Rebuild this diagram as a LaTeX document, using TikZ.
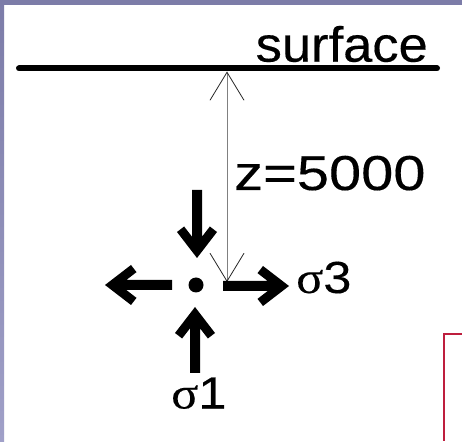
\documentclass[tikz,border=0pt]{standalone}
\usepackage{fontspec}
\setmainfont{Liberation Sans}
\newfontfamily\surfacefont[FakeStretch=1.06, FakeBold=0.3]{Liberation Sans}
\newfontfamily\depthfont[FakeStretch=1.18, FakeBold=0.3]{Liberation Sans}
\newfontfamily\sigmafont[FakeStretch=1.12, FakeBold=0.3]{Liberation Serif}
\newfontfamily\indexfont[FakeStretch=1.12, FakeBold=0.3]{Liberation Sans}
\usetikzlibrary{arrows.meta}
\definecolor{frameblue}{RGB}{124,124,168}
\definecolor{framelight}{RGB}{160,160,200}
\definecolor{boxred}{RGB}{190,30,62}
\tikzset{
  label text/.style={anchor=base west, inner sep=0pt, text=black},
  % thick stress arrow: tip at the origin, pointing along +x, tail length #1
  stressarrow/.pic={
    \fill[black] (0,0) -- (-26,20) -- (-31.5,12.86) -- (-21.3,5) -- (-#1,5)
      -- (-#1,-5) -- (-21.3,-5) -- (-31.5,-12.86) -- (-26,-20) -- cycle;
  },
  depth line/.style={draw=black!50, line width=1pt,
    {Straight Barb[length=28pt, width=34pt, line width=0.8pt, color=black!85]}-{Straight Barb[length=28pt, width=34pt, line width=0.8pt, color=black!85]}},
}
\begin{document}
\begin{tikzpicture}[x=1pt, y=1pt]
  \useasboundingbox (0,0) rectangle (462,441);
  \fill[white] (0,0) rectangle (462,441);
  % slide frame
  \shade[top color=frameblue, bottom color=framelight] (0,0) rectangle (4,441);
  \fill[frameblue] (0,436) rectangle (462,441);
  % corner of the box at the lower right
  \draw[boxred, line width=2pt] (462,107) -- (444,107) -- (444,0);

  % ground surface
  \coordinate (sl) at (19,372.5);
  \coordinate (sr) at (437,372.5);
  \draw[line width=6pt, line cap=round] (sl) -- (sr);
  \node[label text, font=\surfacefont\fontsize{49.5}{50}\selectfont] (surf) at (255.5,379.3) {surface};

  % depth dimension
  \coordinate (ztop) at (227,369.5);
  \coordinate (zbot) at (227,159);
  \draw[depth line] (ztop) -- (zbot);
  \node[label text, font=\depthfont\fontsize{49}{50}\selectfont] (depth) at (234,251) {z=5000};

  % point at depth with principal stresses
  \node[circle, fill=black, minimum size=15pt, inner sep=0pt] (pt) at (196,156) {};
  \pic[rotate=-90] at (197,183) {stressarrow=68};
  \pic[rotate=90] at (195,134) {stressarrow=66};
  \pic[rotate=180] at (105,156) {stressarrow=67};
  \pic at (289,155) {stressarrow=66};

  \node[label text, font=\fontsize{45}{46}\selectfont] (s3) at (296,148) {{\sigmafont σ}{\indexfont 3}};
  \node[label text, font=\fontsize{45}{46}\selectfont] (s1) at (171,32.5) {{\sigmafont σ}{\indexfont 1}};
\end{tikzpicture}
\end{document}
